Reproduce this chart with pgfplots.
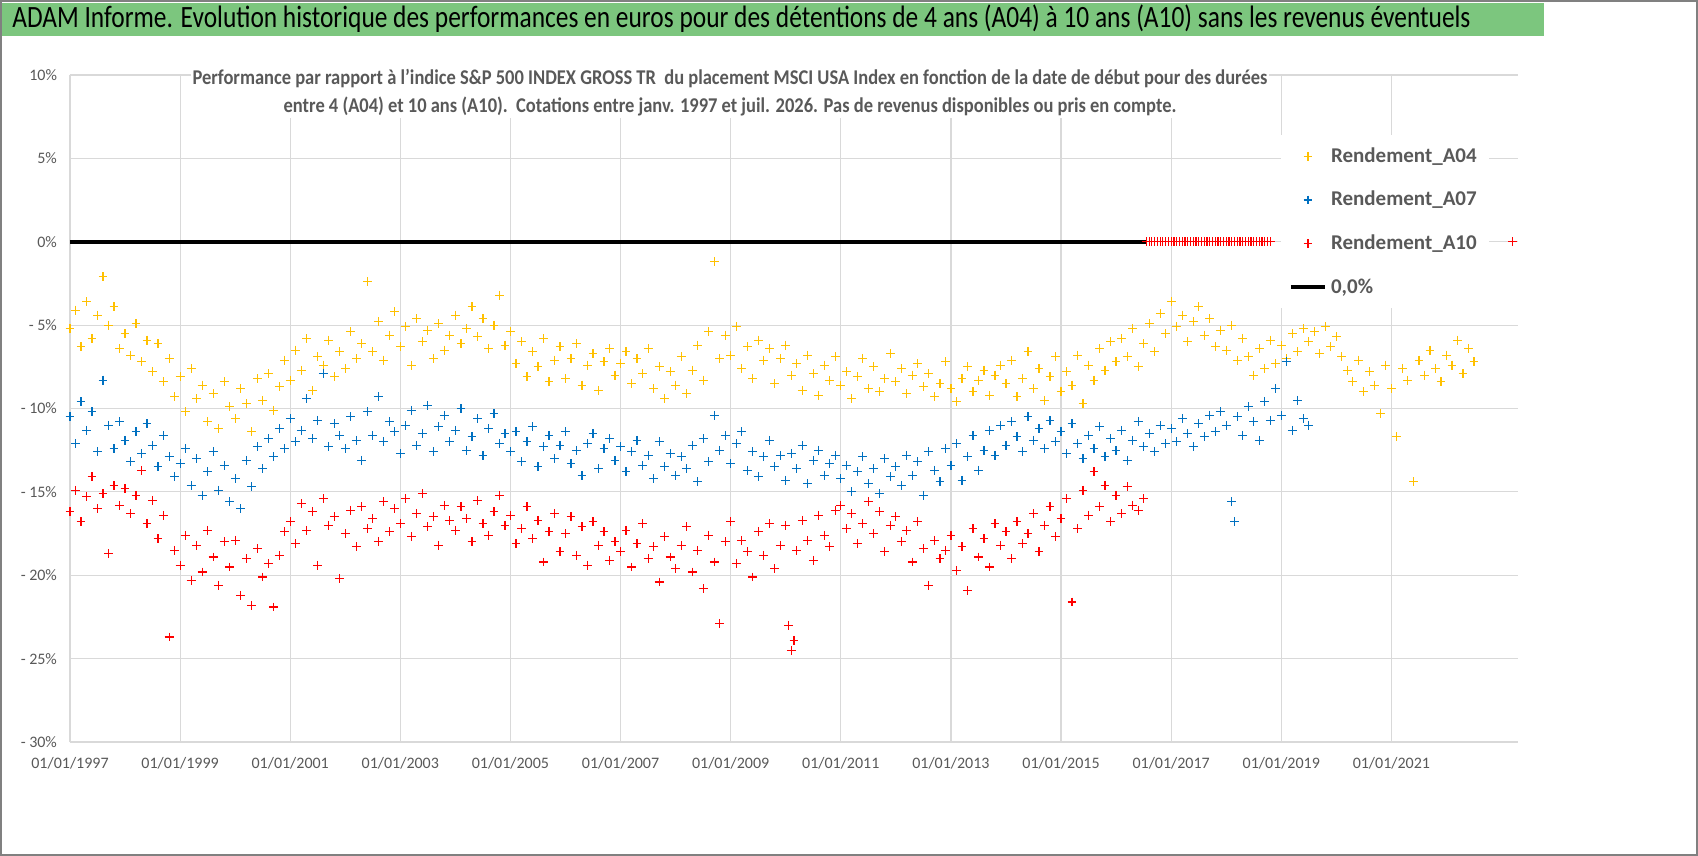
\documentclass[border=0pt]{standalone}
\usepackage{pgfplots}
\pgfplotsset{compat=1.18}
\usepackage{fontspec}
\setmainfont{Carlito}
\definecolor{gA}{RGB}{124,198,126}
\definecolor{yA}{RGB}{255,192,0}
\definecolor{bA}{RGB}{0,112,192}
\definecolor{rA}{RGB}{255,0,0}
\definecolor{txt}{RGB}{89,89,89}
\definecolor{grd}{RGB}{217,217,217}
\begin{document}
\begin{tikzpicture}[x=1pt,y=1pt]
\fill[white] (0,0) rectangle (849,428);
\fill[gA] (1,410) rectangle (772,426.5);
\node[anchor=west,font=\fontsize{15.5}{17}\selectfont,inner sep=0pt] at (6,418.5) {\scalebox{0.82}[1]{ADAM Informe. Evolution historique des performances en euros pour des détentions de 4 ans (A04) à 10 ans (A10) sans les revenus éventuels}};
\begin{axis}[
  at={(35pt,57pt)}, anchor=south west, scale only axis,
  width=724pt, height=333.5pt,
  xmin=1997, xmax=2023.3, ymin=-30, ymax=10,
  axis lines=left, axis line style={grd,-}, y axis line style={draw=none},
  xtick={1997,1999,...,2021},
  xticklabels={01/01/1997,01/01/1999,01/01/2001,01/01/2003,01/01/2005,01/01/2007,01/01/2009,01/01/2011,01/01/2013,01/01/2015,01/01/2017,01/01/2019,01/01/2021},
  ytick={-30,-25,...,10},
  yticklabels={- 30\%,- 25\%,- 20\%,- 15\%,- 10\%,- 5\%,0\%,5\%,10\%},
  ymajorgrids, xmajorgrids, grid style={grd,line width=0.6pt},
  major tick length=0pt,
  tick label style={font=\fontsize{8}{9}\selectfont, text=txt},
  yticklabel style={xshift=-3pt},
  xticklabel style={yshift=-4pt},
  legend style={at={(0.836,0.91)}, anchor=north west, draw=none, fill=white,
    font=\fontsize{10.5}{12}\selectfont\bfseries, text=txt, row sep=9pt, inner sep=4pt},
  legend cell align=left,
  clip=false,
]
\addplot[only marks, mark=+, mark size=2.2pt, yA, line width=0.6pt] coordinates {
(1997.0,-5.2)(1997.1,-4.1)(1997.2,-6.3)(1997.3,-3.6)(1997.4,-5.8)(1997.5,-4.4)(1997.6,-2.1)(1997.7,-5.0)(1997.8,-3.9)(1997.9,-6.4)
(1998.0,-5.5)(1998.1,-6.8)(1998.2,-4.9)(1998.3,-7.2)(1998.4,-5.9)(1998.5,-7.8)(1998.6,-6.1)(1998.7,-8.4)(1998.8,-7.0)(1998.9,-9.3)
(1999.0,-8.1)(1999.1,-10.2)(1999.2,-7.6)(1999.3,-9.4)(1999.4,-8.6)(1999.5,-10.8)(1999.6,-9.1)(1999.7,-11.2)(1999.8,-8.4)(1999.9,-9.9)
(2000.0,-10.6)(2000.1,-8.8)(2000.2,-9.7)(2000.3,-11.4)(2000.4,-8.2)(2000.5,-9.5)(2000.6,-7.9)(2000.7,-10.1)(2000.8,-8.7)(2000.9,-7.1)
(2001.0,-8.3)(2001.1,-6.5)(2001.2,-7.7)(2001.3,-5.8)(2001.4,-8.9)(2001.5,-6.9)(2001.6,-7.4)(2001.7,-5.9)(2001.8,-8.1)(2001.9,-6.6)
(2002.0,-7.6)(2002.1,-5.4)(2002.2,-7.0)(2002.3,-6.1)(2002.4,-2.4)(2002.5,-6.6)(2002.6,-4.8)(2002.7,-7.1)(2002.8,-5.6)(2002.9,-4.2)
(2003.0,-6.3)(2003.1,-5.1)(2003.2,-7.4)(2003.3,-4.6)(2003.4,-6.0)(2003.5,-5.3)(2003.6,-7.0)(2003.7,-4.9)(2003.8,-6.5)(2003.9,-5.6)
(2004.0,-4.4)(2004.1,-6.1)(2004.2,-5.2)(2004.3,-3.9)(2004.4,-5.7)(2004.5,-4.6)(2004.6,-6.4)(2004.7,-5.0)(2004.8,-3.2)(2004.9,-6.2)
(2005.0,-5.4)(2005.1,-7.3)(2005.2,-6.0)(2005.3,-8.1)(2005.4,-6.6)(2005.5,-7.5)(2005.6,-5.8)(2005.7,-8.4)(2005.8,-7.1)(2005.9,-6.3)
(2006.0,-8.2)(2006.1,-7.0)(2006.2,-6.1)(2006.3,-8.6)(2006.4,-7.4)(2006.5,-6.7)(2006.6,-8.9)(2006.7,-7.2)(2006.8,-6.4)(2006.9,-8.0)
(2007.0,-7.3)(2007.1,-6.6)(2007.2,-8.5)(2007.3,-7.0)(2007.4,-7.9)(2007.5,-6.4)(2007.6,-8.8)(2007.7,-7.5)(2007.8,-9.4)(2007.9,-7.8)
(2008.0,-8.6)(2008.1,-6.9)(2008.2,-9.1)(2008.3,-7.7)(2008.4,-6.2)(2008.5,-8.3)(2008.6,-5.4)(2008.7,-1.2)(2008.8,-7.0)(2008.9,-5.6)
(2009.0,-6.8)(2009.1,-5.1)(2009.2,-7.6)(2009.3,-6.3)(2009.4,-8.2)(2009.5,-5.9)(2009.6,-7.1)(2009.7,-6.4)(2009.8,-8.5)(2009.9,-7.0)
(2010.0,-6.2)(2010.1,-8.0)(2010.2,-7.3)(2010.3,-8.9)(2010.4,-6.8)(2010.5,-7.9)(2010.6,-9.2)(2010.7,-7.4)(2010.8,-8.3)(2010.9,-6.9)
(2011.0,-8.6)(2011.1,-7.8)(2011.2,-9.4)(2011.3,-8.1)(2011.4,-7.0)(2011.5,-8.8)(2011.6,-7.5)(2011.7,-9.0)(2011.8,-8.2)(2011.9,-6.7)
(2012.0,-8.4)(2012.1,-7.6)(2012.2,-9.1)(2012.3,-8.0)(2012.4,-7.3)(2012.5,-8.7)(2012.6,-7.9)(2012.7,-9.3)(2012.8,-8.5)(2012.9,-7.2)
(2013.0,-8.8)(2013.1,-9.6)(2013.2,-8.2)(2013.3,-7.5)(2013.4,-9.0)(2013.5,-8.3)(2013.6,-7.7)(2013.7,-9.2)(2013.8,-8.0)(2013.9,-7.4)
(2014.0,-8.5)(2014.1,-7.1)(2014.2,-9.3)(2014.3,-8.2)(2014.4,-6.6)(2014.5,-8.8)(2014.6,-7.6)(2014.7,-9.5)(2014.8,-8.1)(2014.9,-6.9)
(2015.0,-9.0)(2015.1,-7.8)(2015.2,-8.6)(2015.3,-6.8)(2015.4,-9.7)(2015.5,-7.4)(2015.6,-8.3)(2015.7,-6.4)(2015.8,-7.7)(2015.9,-6.0)
(2016.0,-7.2)(2016.1,-5.8)(2016.2,-6.9)(2016.3,-5.2)(2016.4,-7.5)(2016.5,-6.1)(2016.6,-4.9)(2016.7,-6.6)(2016.8,-4.3)(2016.9,-5.5)
(2017.0,-3.6)(2017.1,-5.1)(2017.2,-4.4)(2017.3,-6.0)(2017.4,-4.8)(2017.5,-3.9)(2017.6,-5.6)(2017.7,-4.6)(2017.8,-6.3)(2017.9,-5.3)
(2018.0,-6.5)(2018.1,-5.0)(2018.2,-7.1)(2018.3,-5.8)(2018.4,-6.9)(2018.5,-8.0)(2018.6,-6.4)(2018.7,-7.6)(2018.8,-5.9)(2018.9,-7.3)
(2019.0,-6.2)(2019.1,-7.0)(2019.2,-5.5)(2019.3,-6.6)(2019.4,-5.2)(2019.5,-6.0)(2019.6,-5.4)(2019.7,-6.7)(2019.8,-5.1)(2019.9,-6.3)
(2020.0,-5.7)(2020.1,-6.9)(2020.2,-7.7)(2020.3,-8.4)(2020.4,-7.1)(2020.5,-9.0)(2020.6,-7.8)(2020.7,-8.6)(2020.8,-10.3)(2020.9,-7.4)
(2021.0,-8.8)(2021.1,-11.7)(2021.2,-7.6)(2021.3,-8.3)(2021.4,-14.4)(2021.5,-7.1)(2021.6,-8.0)(2021.7,-6.5)(2021.8,-7.6)(2021.9,-8.4)
(2022.0,-6.8)(2022.1,-7.4)(2022.2,-5.9)(2022.3,-7.9)(2022.4,-6.4)(2022.5,-7.2)
};
\addlegendentry{Rendement\_A04}
\addplot[only marks, mark=+, mark size=2.2pt, bA, line width=0.6pt] coordinates {
(1997.0,-10.5)(1997.1,-12.1)(1997.2,-9.6)(1997.3,-11.3)(1997.4,-10.2)(1997.5,-12.6)(1997.6,-8.3)(1997.7,-11.0)(1997.8,-12.4)(1997.9,-10.8)
(1998.0,-11.9)(1998.1,-13.2)(1998.2,-11.4)(1998.3,-12.7)(1998.4,-10.9)(1998.5,-12.2)(1998.6,-13.5)(1998.7,-11.6)(1998.8,-12.9)(1998.9,-14.1)
(1999.0,-13.3)(1999.1,-12.4)(1999.2,-14.6)(1999.3,-13.0)(1999.4,-15.2)(1999.5,-13.8)(1999.6,-12.6)(1999.7,-14.9)(1999.8,-13.4)(1999.9,-15.6)
(2000.0,-14.2)(2000.1,-16.0)(2000.2,-13.1)(2000.3,-14.7)(2000.4,-12.3)(2000.5,-13.6)(2000.6,-11.8)(2000.7,-12.9)(2000.8,-11.2)(2000.9,-12.4)
(2001.0,-10.6)(2001.1,-12.0)(2001.2,-11.3)(2001.3,-9.4)(2001.4,-11.8)(2001.5,-10.7)(2001.6,-7.9)(2001.7,-12.3)(2001.8,-10.9)(2001.9,-11.6)
(2002.0,-12.4)(2002.1,-10.5)(2002.2,-11.9)(2002.3,-13.1)(2002.4,-10.2)(2002.5,-11.6)(2002.6,-9.3)(2002.7,-12.0)(2002.8,-10.8)(2002.9,-11.4)
(2003.0,-12.7)(2003.1,-11.0)(2003.2,-10.1)(2003.3,-12.2)(2003.4,-11.5)(2003.5,-9.8)(2003.6,-12.6)(2003.7,-11.1)(2003.8,-10.4)(2003.9,-12.0)
(2004.0,-11.3)(2004.1,-10.0)(2004.2,-12.5)(2004.3,-11.7)(2004.4,-10.6)(2004.5,-12.8)(2004.6,-11.2)(2004.7,-10.3)(2004.8,-12.1)(2004.9,-11.5)
(2005.0,-12.6)(2005.1,-11.4)(2005.2,-13.2)(2005.3,-12.0)(2005.4,-11.1)(2005.5,-13.5)(2005.6,-12.3)(2005.7,-11.6)(2005.8,-13.0)(2005.9,-12.2)
(2006.0,-11.4)(2006.1,-13.3)(2006.2,-12.5)(2006.3,-14.0)(2006.4,-12.1)(2006.5,-11.5)(2006.6,-13.6)(2006.7,-12.4)(2006.8,-11.8)(2006.9,-13.1)
(2007.0,-12.3)(2007.1,-13.8)(2007.2,-12.6)(2007.3,-11.9)(2007.4,-13.4)(2007.5,-12.8)(2007.6,-14.2)(2007.7,-12.0)(2007.8,-13.5)(2007.9,-12.7)
(2008.0,-14.0)(2008.1,-12.9)(2008.2,-13.6)(2008.3,-12.2)(2008.4,-14.4)(2008.5,-11.8)(2008.6,-13.2)(2008.7,-10.4)(2008.8,-12.5)(2008.9,-11.6)
(2009.0,-13.3)(2009.1,-12.1)(2009.2,-11.4)(2009.3,-13.7)(2009.4,-12.6)(2009.5,-14.1)(2009.6,-12.9)(2009.7,-11.9)(2009.8,-13.5)(2009.9,-12.8)
(2010.0,-14.3)(2010.1,-12.7)(2010.2,-13.6)(2010.3,-12.2)(2010.4,-14.5)(2010.5,-13.1)(2010.6,-12.5)(2010.7,-14.0)(2010.8,-13.3)(2010.9,-12.8)
(2011.0,-14.2)(2011.1,-13.4)(2011.2,-15.0)(2011.3,-13.8)(2011.4,-12.9)(2011.5,-14.5)(2011.6,-13.6)(2011.7,-15.1)(2011.8,-13.0)(2011.9,-14.1)
(2012.0,-13.5)(2012.1,-14.6)(2012.2,-12.8)(2012.3,-14.0)(2012.4,-13.2)(2012.5,-15.2)(2012.6,-12.6)(2012.7,-13.7)(2012.8,-14.4)(2012.9,-12.4)
(2013.0,-13.4)(2013.1,-12.1)(2013.2,-14.3)(2013.3,-12.9)(2013.4,-11.6)(2013.5,-13.7)(2013.6,-12.5)(2013.7,-11.3)(2013.8,-12.8)(2013.9,-11.0)
(2014.0,-12.2)(2014.1,-10.8)(2014.2,-11.7)(2014.3,-12.6)(2014.4,-10.5)(2014.5,-11.9)(2014.6,-11.2)(2014.7,-12.4)(2014.8,-10.7)(2014.9,-12.0)
(2015.0,-11.4)(2015.1,-12.7)(2015.2,-10.9)(2015.3,-12.1)(2015.4,-13.0)(2015.5,-11.6)(2015.6,-12.4)(2015.7,-11.1)(2015.8,-12.9)(2015.9,-11.8)
(2016.0,-12.5)(2016.1,-11.3)(2016.2,-13.1)(2016.3,-11.9)(2016.4,-10.8)(2016.5,-12.3)(2016.6,-11.5)(2016.7,-12.6)(2016.8,-11.0)(2016.9,-12.1)
(2017.0,-11.2)(2017.1,-12.0)(2017.2,-10.6)(2017.3,-11.5)(2017.4,-12.3)(2017.5,-10.9)(2017.6,-11.7)(2017.7,-10.4)(2017.8,-11.4)(2017.9,-10.2)
(2018.0,-11.0)(2018.1,-15.6)(2018.15,-16.8)(2018.2,-10.5)(2018.3,-11.6)(2018.4,-9.9)(2018.5,-10.8)(2018.6,-11.9)(2018.7,-9.6)(2018.8,-10.7)(2018.9,-8.8)
(2019.0,-10.4)(2019.1,-7.2)(2019.2,-11.3)(2019.3,-9.5)(2019.4,-10.6)(2019.5,-11.0)
};
\addlegendentry{Rendement\_A07}
\addplot[only marks, mark=+, mark size=2.2pt, rA, line width=0.6pt] coordinates {
(1997.0,-16.2)(1997.1,-14.9)(1997.2,-16.8)(1997.3,-15.3)(1997.4,-14.1)(1997.5,-16.0)(1997.6,-15.1)(1997.7,-18.7)(1997.8,-14.6)(1997.9,-15.8)
(1998.0,-14.8)(1998.1,-16.3)(1998.2,-15.2)(1998.3,-13.7)(1998.4,-16.9)(1998.5,-15.5)(1998.6,-17.8)(1998.7,-16.4)(1998.8,-23.7)(1998.9,-18.5)
(1999.0,-19.4)(1999.1,-17.6)(1999.2,-20.3)(1999.3,-18.2)(1999.4,-19.8)(1999.5,-17.3)(1999.6,-18.9)(1999.7,-20.6)(1999.8,-18.0)(1999.9,-19.5)
(2000.0,-17.9)(2000.1,-21.2)(2000.2,-19.0)(2000.3,-21.8)(2000.4,-18.4)(2000.5,-20.1)(2000.6,-19.3)(2000.7,-21.9)(2000.8,-18.8)(2000.9,-17.4)
(2001.0,-16.8)(2001.1,-18.1)(2001.2,-15.7)(2001.3,-17.3)(2001.4,-16.2)(2001.5,-19.4)(2001.6,-15.4)(2001.7,-17.0)(2001.8,-16.5)(2001.9,-20.2)
(2002.0,-17.5)(2002.1,-16.1)(2002.2,-18.3)(2002.3,-15.9)(2002.4,-17.2)(2002.5,-16.6)(2002.6,-18.0)(2002.7,-15.6)(2002.8,-17.4)(2002.9,-16.0)
(2003.0,-16.9)(2003.1,-15.4)(2003.2,-17.7)(2003.3,-16.3)(2003.4,-15.1)(2003.5,-17.1)(2003.6,-16.5)(2003.7,-18.2)(2003.8,-15.8)(2003.9,-16.7)
(2004.0,-17.3)(2004.1,-15.9)(2004.2,-16.6)(2004.3,-18.0)(2004.4,-15.5)(2004.5,-16.9)(2004.6,-17.6)(2004.7,-16.2)(2004.8,-15.2)(2004.9,-17.0)
(2005.0,-16.4)(2005.1,-18.1)(2005.2,-17.2)(2005.3,-15.9)(2005.4,-17.8)(2005.5,-16.7)(2005.6,-19.2)(2005.7,-17.4)(2005.8,-16.3)(2005.9,-18.6)
(2006.0,-17.5)(2006.1,-16.5)(2006.2,-18.8)(2006.3,-17.1)(2006.4,-19.4)(2006.5,-16.8)(2006.6,-18.2)(2006.7,-17.4)(2006.8,-19.1)(2006.9,-18.0)
(2007.0,-18.6)(2007.1,-17.3)(2007.2,-19.5)(2007.3,-18.1)(2007.4,-16.9)(2007.5,-19.0)(2007.6,-18.3)(2007.7,-20.4)(2007.8,-17.7)(2007.9,-18.9)
(2008.0,-19.6)(2008.1,-18.2)(2008.2,-17.1)(2008.3,-19.8)(2008.4,-18.5)(2008.5,-20.8)(2008.6,-17.6)(2008.7,-19.2)(2008.8,-22.9)(2008.9,-18.0)
(2009.0,-16.8)(2009.1,-19.3)(2009.2,-17.9)(2009.3,-18.6)(2009.4,-20.1)(2009.5,-17.4)(2009.6,-18.8)(2009.7,-16.9)(2009.8,-19.6)(2009.9,-18.2)
(2010.0,-17.0)(2010.05,-23.0)(2010.1,-24.5)(2010.15,-23.9)(2010.2,-18.5)(2010.3,-16.7)(2010.4,-17.9)(2010.5,-19.1)(2010.6,-16.4)(2010.7,-17.6)(2010.8,-18.3)(2010.9,-16.1)
(2011.0,-15.8)(2011.1,-17.2)(2011.2,-16.3)(2011.3,-18.1)(2011.4,-16.9)(2011.5,-15.6)(2011.6,-17.5)(2011.7,-16.2)(2011.8,-18.6)(2011.9,-17.0)
(2012.0,-16.5)(2012.1,-18.0)(2012.2,-17.3)(2012.3,-19.2)(2012.4,-16.8)(2012.5,-18.4)(2012.6,-20.6)(2012.7,-17.9)(2012.8,-19.0)(2012.9,-18.5)
(2013.0,-17.6)(2013.1,-19.7)(2013.2,-18.3)(2013.3,-20.9)(2013.4,-17.2)(2013.5,-18.9)(2013.6,-17.8)(2013.7,-19.5)(2013.8,-16.9)(2013.9,-18.2)
(2014.0,-17.4)(2014.1,-19.0)(2014.2,-16.8)(2014.3,-18.1)(2014.4,-17.5)(2014.5,-16.3)(2014.6,-18.6)(2014.7,-17.0)(2014.8,-15.9)(2014.9,-17.7)
(2015.0,-16.6)(2015.1,-15.4)(2015.2,-21.6)(2015.3,-17.2)(2015.4,-14.9)(2015.5,-16.4)(2015.6,-13.8)(2015.7,-15.9)(2015.8,-14.6)(2015.9,-16.8)
(2016.0,-15.2)(2016.1,-16.3)(2016.2,-14.7)(2016.3,-15.8)(2016.4,-16.1)(2016.5,-15.4)
(2016.55,0)(2016.6,0)(2016.65,0)(2016.7,0)(2016.75,0)(2016.8,0)(2016.85,0)(2016.9,0)(2016.95,0)(2017.0,0)
(2017.05,0)(2017.1,0)(2017.15,0)(2017.2,0)(2017.25,0)(2017.3,0)(2017.35,0)(2017.4,0)(2017.45,0)(2017.5,0)
(2017.55,0)(2017.6,0)(2017.65,0)(2017.7,0)(2017.75,0)(2017.8,0)(2017.85,0)(2017.9,0)(2017.95,0)(2018.0,0)
(2018.05,0)(2018.1,0)(2018.15,0)(2018.2,0)(2018.25,0)(2018.3,0)(2018.35,0)(2018.4,0)(2018.45,0)(2018.5,0)
(2018.55,0)(2018.6,0)(2018.65,0)(2018.7,0)(2018.75,0)(2018.8,0)(2023.2,0)
};
\addlegendentry{Rendement\_A10}
\addplot[black, line width=2pt, no marks] coordinates {(1997,0)(2016.55,0)};
\addlegendentry{0,0\%}
\end{axis}
\node[fill=white, align=center, text=txt, font=\fontsize{10.5}{14}\selectfont\bfseries, inner sep=1pt] at (365,381.5)
 {\scalebox{0.88}[1]{Performance par rapport à l'indice S\&P 500 INDEX GROSS TR\ \ du placement MSCI USA Index en fonction de la date de début pour des durées}\\ \scalebox{0.88}[1]{entre 4 (A04) et 10 ans (A10).\ \ Cotations entre janv. 1997 et juil. 2026. Pas de revenus disponibles ou pris en compte.}};
\draw[gray, line width=0.8pt] (0.4,0.4) rectangle (848.6,427.6);
\end{tikzpicture}
\end{document}
